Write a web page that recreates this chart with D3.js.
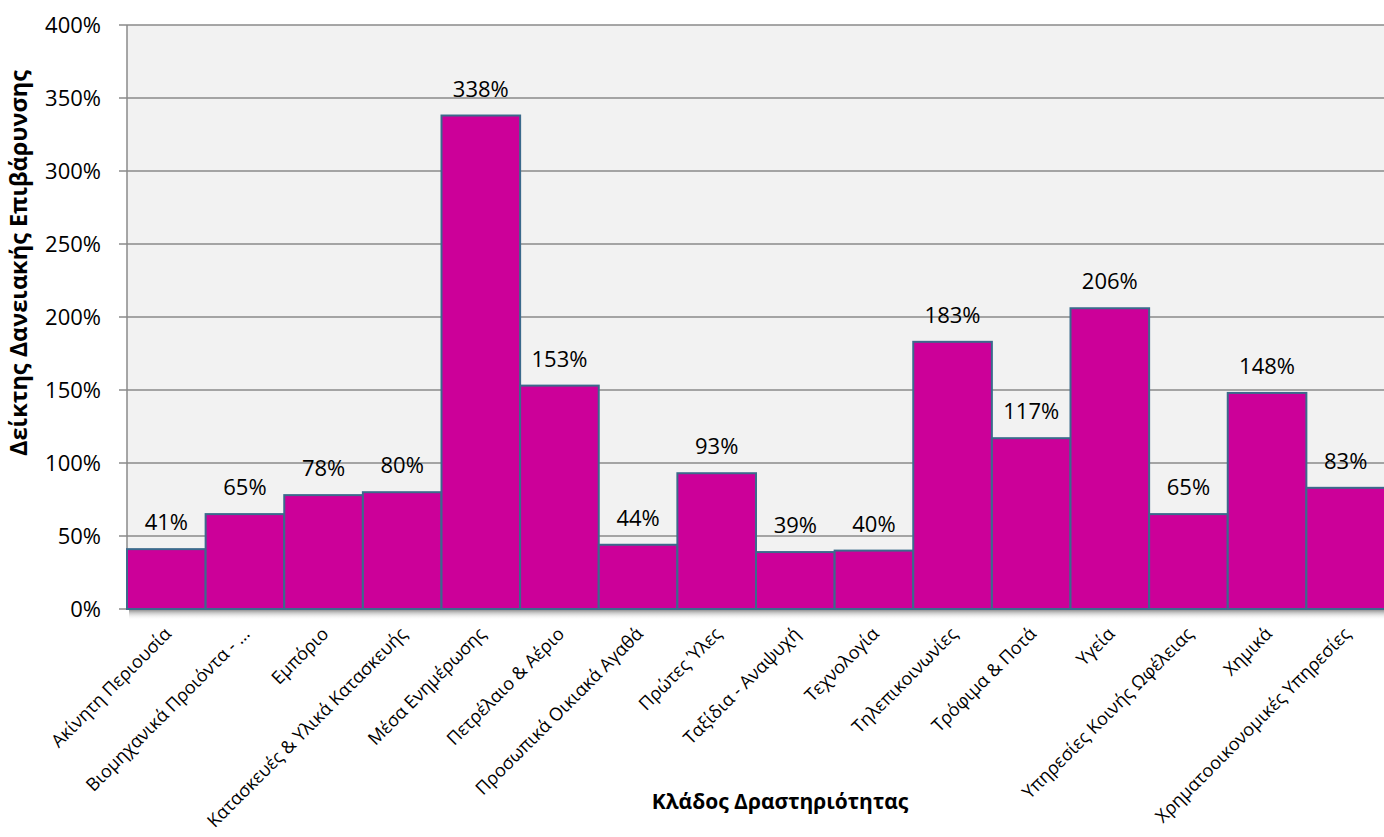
<!DOCTYPE html>
<html>
<head>
<meta charset="utf-8">
<script src="https://cdn.jsdelivr.net/npm/d3@7"></script>
<style>
  body { margin: 0; background: #fff; }
  text { font-family: "Open Sans", "Noto Sans", sans-serif; fill: #000; }
</style>
</head>
<body>
<div class="chart"></div>
<script>
// sector names and leverage ratio (%)
const sectors = ['Ακίνητη Περιουσία', 'Βιομηχανικά Προιόντα - ...', 'Εμπόριο', 'Κατασκευές & Υλικά Κατασκευής',
  'Μέσα Ενημέρωσης', 'Πετρέλαιο & Αέριο', 'Προσωπικά Οικιακά Αγαθά', 'Πρώτες Ύλες', 'Ταξίδια - Αναψυχή',
  'Τεχνολογία', 'Τηλεπικοινωνίες', 'Τρόφιμα & Ποτά', 'Υγεία', 'Υπηρεσίες Κοινής Ωφέλειας', 'Χημικά',
  'Χρηματοοικονομικές Υπηρεσίες'];
const ratios = [41, 65, 78, 80, 338, 153, 44, 93, 39, 40, 183, 117, 206, 65, 148, 83];
const yTicks = [0, 50, 100, 150, 200, 250, 300, 350, 400];

const width = 1384;
const height = 837;
const plotL = 127, plotR = 1385, plotT = 25, plotB = 609;

const svg = d3.select('.chart').append('svg')
    .attr('width', width)
    .attr('height', height)

const x = d3.scaleBand().domain(sectors).range([plotL, plotR]).padding(0);
const y = d3.scaleLinear().domain([0, 400]).range([plotB, plotT]);

// shadow under plot
const grad = svg.append('defs').append('linearGradient')
    .attr('id', 'shade').attr('x1', 0).attr('y1', 0).attr('x2', 0).attr('y2', 1);
grad.append('stop').attr('offset', '0%').attr('stop-color', '#7a7a7a').attr('stop-opacity', 0.8);
grad.append('stop').attr('offset', '100%').attr('stop-color', '#fff').attr('stop-opacity', 0);
svg.append('rect')
    .attr('x', plotL + 2).attr('y', plotB + 1)
    .attr('width', plotR - plotL).attr('height', 10)
    .attr('fill', 'url(#shade)')

svg.append('rect')
    .attr('x', plotL).attr('y', plotT)
    .attr('width', plotR - plotL).attr('height', plotB - plotT)
    .attr('fill', '#f2f2f2')

svg.selectAll('.grid')
    .data(yTicks)
    .enter()
    .append('line')
    .attr('class', 'grid')
    .attr('x1', plotL - 8).attr('x2', plotR)
    .attr('y1', d => y(d)).attr('y2', d => y(d))
    .attr('stroke', '#8a8a8a')
    .attr('stroke-width', 1.5)

svg.append('line')
    .attr('x1', plotL).attr('x2', plotL)
    .attr('y1', plotT).attr('y2', plotB)
    .attr('stroke', '#8a8a8a')
    .attr('stroke-width', 1.5)

svg.selectAll('.ylab')
    .data(yTicks)
    .enter()
    .append('text')
    .attr('class', 'ylab')
    .attr('x', plotL - 26)
    .attr('y', d => y(d))
    .attr('dy', '0.35em')
    .attr('text-anchor', 'end')
    .attr('font-size', 22)
    .text(d => d + '%')

svg.selectAll('.bar')
    .data(ratios)
    .enter()
    .append('rect')
    .attr('class', 'bar')
    .attr('x', (d, i) => x(sectors[i]))
    .attr('y', d => y(d))
    .attr('width', x.bandwidth())
    .attr('height', d => plotB - y(d))
    .attr('fill', '#cc0099')
    .attr('stroke', '#3b6a8c')
    .attr('stroke-width', 2)

svg.selectAll('.val')
    .data(ratios)
    .enter()
    .append('text')
    .attr('class', 'val')
    .attr('x', (d, i) => x(sectors[i]) + x.bandwidth() / 2)
    .attr('y', d => y(d) - 19)
    .attr('text-anchor', 'middle')
    .attr('font-size', 22)
    .text(d => d + '%')

svg.selectAll('.cat')
    .data(sectors)
    .enter()
    .append('text')
    .attr('class', 'cat')
    .attr('transform', d => `translate(${x(d) + x.bandwidth() / 2 + 6},${plotB + 26}) rotate(-45)`)
    .attr('text-anchor', 'end')
    .attr('font-size', 18)
    .text(d => d)

svg.append('text')
    .attr('x', 780)
    .attr('y', 809)
    .attr('text-anchor', 'middle')
    .attr('font-size', 21)
    .attr('font-weight', 'bold')
    .text('Κλάδος Δραστηριότητας')

svg.append('text')
    .attr('transform', 'translate(27,263) rotate(-90)')
    .attr('text-anchor', 'middle')
    .attr('font-size', 23.5)
    .attr('font-weight', 'bold')
    .text('Δείκτης Δανειακής Επιβάρυνσης')
</script>
</body>
</html>
